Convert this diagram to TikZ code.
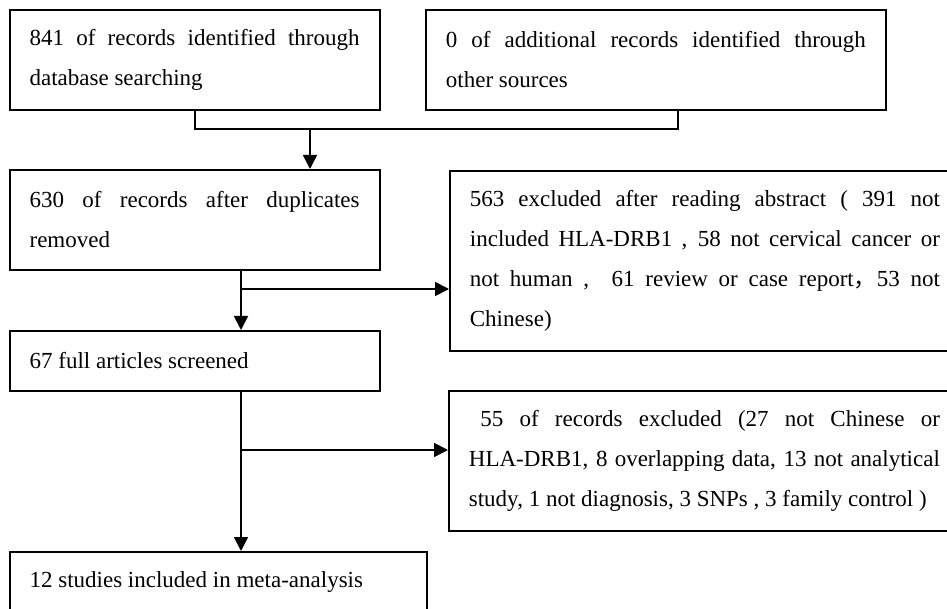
\documentclass[tikz,border=0pt]{standalone}
\usepackage{fontspec}
\setmainfont{Liberation Serif}
\newfontfamily\cjk{Noto Sans CJK SC}
\usetikzlibrary{arrows.meta,positioning,calc}

\tikzset{
  box/.style={draw, line width=1.8pt, rectangle, anchor=north west,
    inner xsep=20pt, inner ysep=0pt, align=justify,
    font=\fontsize{23}{40}\selectfont},
  link/.style={line width=1.8pt},
  arr/.style={line width=1.8pt, -{Triangle[length=14pt,width=14pt]}}
}

\begin{document}
\begin{tikzpicture}[x=1pt, y=-1pt]
  \useasboundingbox (0,0) rectangle (947,609);
  \fill[white] (0,0) rectangle (947,609);
  \clip (0,0) rectangle (947,609);

  % record boxes
  \node[box, text width=330pt, minimum height=100pt] (b1) at (8.7,9)
    {841 of records identified through\linebreak database searching};
  \node[box, text width=420pt, minimum height=100pt] (b2) at (425,9)
    {0 of additional records identified through\linebreak other sources};
  \node[box, text width=330pt, minimum height=100pt] (b3) at (8.7,169)
    {630 of records after duplicates\linebreak removed};
  \node[box, text width=470pt, minimum height=180pt] (b4) at (449,170)
    {563 excluded after reading abstract ( 391 not\linebreak
     included HLA-DRB1 , 58 not cervical cancer or\linebreak
     not human ,~ 61 review or case report{\cjk ，}53 not\linebreak
     Chinese)};
  \node[box, text width=330pt, minimum height=60pt] (b5) at (8.7,330)
    {67 full articles screened};
  \node[box, text width=471pt, minimum height=140pt] (b6) at (448,390)
    {\hspace*{0.5em}55 of records excluded (27 not Chinese or\linebreak
     HLA-DRB1, 8 overlapping data, 13 not analytical\linebreak
     study, 1 not diagnosis, 3 SNPs , 3 family control )};
  \node[box, text width=377pt, minimum height=60pt] (b7) at (8.7,551)
    {12 studies included in meta-analysis};

  % merge of the two sources
  \coordinate (k) at (678,129);
  \coordinate (j) at (310,129);
  \draw[link] (b1.south) |- (k) -- (k |- b2.south);
  \draw[arr] (j) -- (j |- b3.north);

  % screening after duplicates removed
  \coordinate (m1) at (241,289);
  \draw[arr] (b3.south -| m1) -- (b5.north -| m1);
  \draw[arr] (m1) -- (m1 -| b4.west);

  % full-text screening
  \coordinate (m2) at (241,450);
  \draw[arr] (b5.south -| m2) -- (b7.north -| m2);
  \draw[arr] (m2) -- (m2 -| b6.west);
\end{tikzpicture}
\end{document}
